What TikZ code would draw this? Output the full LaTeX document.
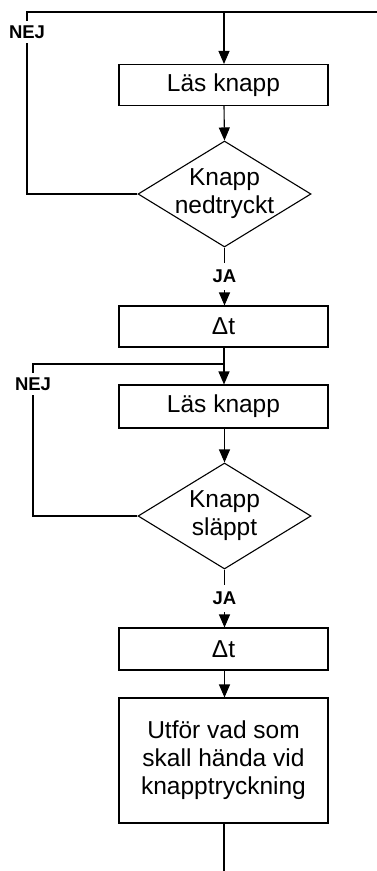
\documentclass[tikz,border=0pt]{standalone}
\usepackage{fontspec}
\setmainfont{Liberation Sans}
\usetikzlibrary{arrows.meta,shapes.geometric}
\begin{document}
\begin{tikzpicture}[x=1pt,y=-1pt,
  line width=1.1pt,
  font=\fontsize{24.5}{28}\selectfont,
  arr/.style={-{Triangle[length=13pt,width=11pt]}},
  stepbox/.style={draw,rectangle,minimum width=209pt,minimum height=41pt,inner sep=0pt,align=center},
  decision/.style={draw,diamond,minimum width=173pt,minimum height=106pt,inner sep=0pt},
  lbl/.style={font=\fontsize{18.5}{20}\selectfont\bfseries,fill=white,inner xsep=1pt,inner ysep=7pt}]
\useasboundingbox (0,0) rectangle (377,871);
% nodes
\node[stepbox] (b1) at (223.5,85) {Läs knapp};
\node[decision] (d1) at (224.5,194) {};
\node[align=center] (t1) at (d1.center) {Knapp\\nedtryckt};
\node[stepbox] (b2) at (223.5,326.5) {Δt};
\node[stepbox,minimum height=43pt] (b3) at (223.5,406.5) {Läs knapp};
\node[decision] (d2) at (224.5,516) {};
\node[align=center] (t2) at (d2.center) {Knapp\\släppt};
\node[stepbox,minimum height=42pt] (b4) at (223.5,649) {Δt};
\node[stepbox,minimum height=125pt] (b5) at (223.5,760.5) {Utför vad som\\skall hända vid\\knapptryckning};
% coordinates
\coordinate (entry) at (377,12);
\coordinate (j1) at (224,12);
\coordinate (l1) at (27,12);
\coordinate (j2) at (224,364);
\coordinate (l2) at (33,364);
\coordinate (exit) at (224,871);
% connectors
\draw (entry) -- (j1);
\draw[arr] (j1) -- (j1 |- b1.north);
\draw[arr] (b1.south -| j1) -- (d1.north);
\draw (d1.west) -| (l1) -- (j1);
\draw[arr] (d1.south) -- node[lbl] (ja1) {JA} (d1.south |- b2.north);
\draw (b2.south -| j2) -- (j2);
\draw[arr] (j2) -- (j2 |- b3.north);
\draw (d2.west) -| (l2) -- (j2);
\draw[arr] (b3.south -| d2.north) -- (d2.north);
\draw[arr] (d2.south) -- node[lbl] (ja2) {JA} (d2.south |- b4.north);
\draw[arr] (b4.south -| d2.south) -- (d2.south |- b5.north);
\draw (b5.south -| exit) -- (exit);
% NEJ labels
\node[lbl,inner ysep=5pt] (nej1) at (27,32) {NEJ};
\node[lbl,inner ysep=5pt] (nej2) at (33,384) {NEJ};
\end{tikzpicture}
\end{document}
